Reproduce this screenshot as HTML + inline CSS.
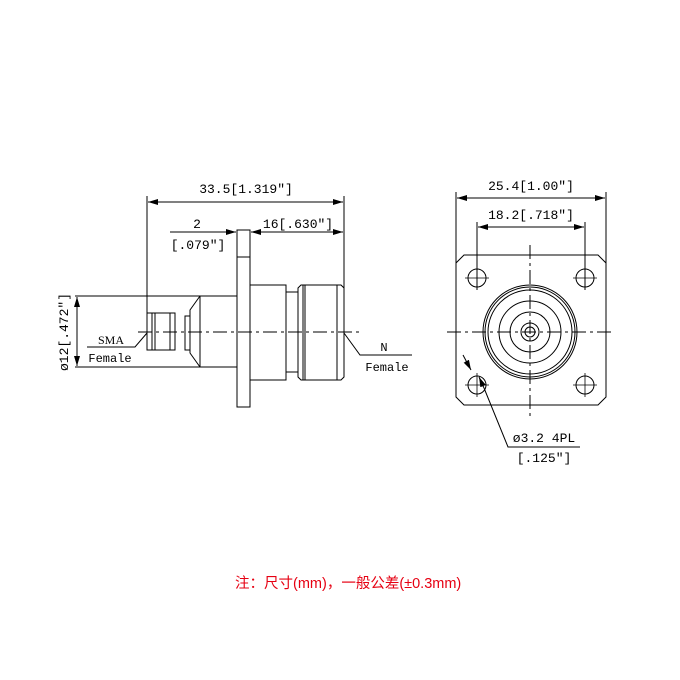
<!DOCTYPE html><html><head><meta charset="utf-8"><style>body{margin:0;background:#fff}svg{display:block}</style></head><body>
<svg width="680" height="680" viewBox="0 0 680 680" xmlns="http://www.w3.org/2000/svg">
<defs><marker id="a" viewBox="0 0 10 6" refX="10" refY="3" markerWidth="10" markerHeight="6" orient="auto-start-reverse" markerUnits="userSpaceOnUse"><path d="M0,0L10,3L0,6z" fill="#000"/></marker></defs>
<g stroke="#000" stroke-width="1" fill="none">
<line x1="147" y1="196" x2="147" y2="318"/><line x1="344" y1="196" x2="344" y2="298"/>
<line x1="148" y1="202" x2="343" y2="202" marker-start="url(#a)" marker-end="url(#a)"/>
<line x1="170" y1="232" x2="236" y2="232" marker-end="url(#a)"/>
<line x1="251" y1="232" x2="343" y2="232" marker-start="url(#a)" marker-end="url(#a)"/>
<rect x="237" y="230" width="13" height="177"/><line x1="237" y1="257" x2="250" y2="257"/>
<line x1="75" y1="296" x2="237" y2="296"/><line x1="75" y1="367" x2="237" y2="367"/>
<line x1="77" y1="297" x2="77" y2="366" marker-start="url(#a)" marker-end="url(#a)"/>
<polyline points="200,296 190,310 190,353 200,367"/><line x1="200" y1="296" x2="200" y2="367"/>
<rect x="185" y="316" width="5" height="34"/>
<rect x="147" y="313" width="28" height="37"/>
<line x1="152" y1="313" x2="152" y2="350"/><line x1="155" y1="313" x2="155" y2="350"/><line x1="170" y1="313" x2="170" y2="350"/>
<rect x="250" y="285" width="36" height="95"/>
<rect x="286" y="292" width="12" height="80"/>
<path d="M298,288 L301,285 L341,285 L344,288 L344,377 L341,380 L301,380 L298,377 Z"/>
<line x1="303" y1="285" x2="303" y2="380"/><line x1="305" y1="285" x2="305" y2="380"/><line x1="337" y1="285" x2="337" y2="380"/>
<line x1="138" y1="332" x2="360" y2="332" stroke-dasharray="14,4,3,4"/>
<polyline points="147,333 135,347 87,347"/><polyline points="344,333 360,355 412,355"/>
<line x1="456" y1="192" x2="456" y2="285"/><line x1="606" y1="192" x2="606" y2="285"/>
<line x1="457" y1="198" x2="605" y2="198" marker-start="url(#a)" marker-end="url(#a)"/>
<line x1="477" y1="222" x2="477" y2="290"/><line x1="585" y1="222" x2="585" y2="290"/>
<line x1="478" y1="227" x2="584" y2="227" marker-start="url(#a)" marker-end="url(#a)"/>
<path d="M464,255 L598,255 L606,263 L606,397 L598,405 L464,405 L456,397 L456,263 Z"/>
<circle cx="477" cy="278" r="9"/><circle cx="585" cy="278" r="9"/><circle cx="477" cy="385" r="9"/><circle cx="585" cy="385" r="9"/>
<g stroke-width="0.8"><line x1="465" y1="278" x2="489" y2="278"/><line x1="477" y1="266" x2="477" y2="290"/>
<line x1="573" y1="278" x2="597" y2="278"/><line x1="585" y1="266" x2="585" y2="290"/>
<line x1="465" y1="385" x2="489" y2="385"/><line x1="477" y1="373" x2="477" y2="397"/>
<line x1="573" y1="385" x2="597" y2="385"/><line x1="585" y1="373" x2="585" y2="397"/></g>
<circle cx="530" cy="332" r="47"/><circle cx="530" cy="332" r="45"/><circle cx="530" cy="332" r="42"/>
<circle cx="530" cy="332" r="31"/><circle cx="530" cy="332" r="20"/><circle cx="530" cy="332" r="9"/><circle cx="530" cy="332" r="5"/>
<line x1="447" y1="332" x2="615" y2="332" stroke-dasharray="14,4,3,4"/>
<line x1="530" y1="245" x2="530" y2="420" stroke-dasharray="14,4,3,4"/>
<line x1="463" y1="355" x2="471" y2="370" marker-end="url(#a)"/>
<line x1="484" y1="388" x2="479" y2="377" marker-end="url(#a)"/>
<polyline points="484,388 508,447 580,447"/>
</g>
<g font-family="Liberation Mono, monospace" font-size="13" fill="#000">
<text x="246" y="193" text-anchor="middle">33.5[1.319″]</text>
<text x="197" y="228" text-anchor="middle">2</text>
<text x="198" y="249" text-anchor="middle">[.079″]</text>
<text x="298" y="228" text-anchor="middle">16[.630″]</text>
<text x="68" y="332" text-anchor="middle" transform="rotate(-90 68 332)">ø12[.472″]</text>
<text x="111" y="344" text-anchor="middle" font-family="Liberation Serif, serif" font-size="12">SMA</text>
<text x="110" y="362" text-anchor="middle" font-size="12">Female</text>
<text x="384" y="351" text-anchor="middle" font-size="12">N</text>
<text x="387" y="371" text-anchor="middle" font-size="12">Female</text>
<text x="531" y="190" text-anchor="middle">25.4[1.00″]</text>
<text x="531" y="219" text-anchor="middle">18.2[.718″]</text>
<text x="544" y="442" text-anchor="middle">ø3.2 4PL</text>
<text x="544" y="462" text-anchor="middle">[.125″]</text>
</g>
<text x="235" y="588" font-family="Liberation Sans, 'Noto Sans CJK SC', sans-serif" font-size="14.5" fill="#e60012">注：尺寸(mm)，一般公差(±0.3mm)</text>
</svg>
</body></html>
